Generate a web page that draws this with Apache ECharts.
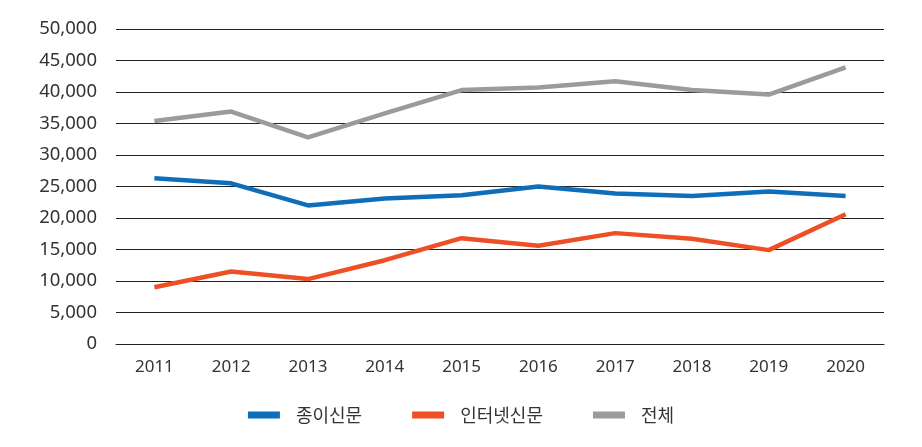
<!DOCTYPE html>
<html><head><meta charset="utf-8">
<script src="https://cdn.jsdelivr.net/npm/echarts@6/dist/echarts.min.js"></script>
<style>html,body{margin:0;padding:0;background:#fff}#c{width:922px;height:447px}</style>
</head><body><div id="c"></div>
<script>
const years = ['2011','2012','2013','2014','2015','2016','2017','2018','2019','2020'];
const paper = [26300, 25500, 22000, 23100, 23600, 25000, 23900, 23500, 24200, 23500];
const internet = [9000, 11500, 10300, 13300, 16800, 15600, 17600, 16700, 14900, 20600];
const total = [35400, 36900, 32800, 36600, 40300, 40700, 41700, 40300, 39600, 43900];
const seriesNames = ['종이신문', '인터넷신문', '전체'];
const colors = ['#0F6EB9', '#EE5026', '#9B9B9E'];

const chart = echarts.init(document.getElementById('c'));
const font = '"Noto Sans", "Noto Sans CJK KR", sans-serif';
const cjk = '"Noto Sans CJK KR", "Noto Sans", sans-serif';
chart.setOption({
  animation: false,
  color: colors,
  grid: {left: 116, right: 38, top: 29, bottom: 103},
  legend: {
    top: 401, left: 'center', itemWidth: 32, itemHeight: 7, itemGap: 50,
    icon: 'rect',
    textStyle: {fontFamily: cjk, fontSize: 18, color: '#333', padding: [0,0,0,11]},
    data: seriesNames
  },
  xAxis: {
    type: 'category', data: years, boundaryGap: true,
    axisLine: {show: true, lineStyle: {color: '#222', width: 1}},
    axisTick: {show: false},
    axisLabel: {fontFamily: font, fontSize: 17, color: '#333', margin: 15}
  },
  yAxis: {
    type: 'value', min: 0, max: 50000, interval: 5000,
    axisLine: {show: false}, axisTick: {show: false},
    splitLine: {lineStyle: {color: '#222', width: 1}},
    axisLabel: {fontFamily: font, fontSize: 18.5, color: '#333', margin: 19,
      formatter: v => v.toLocaleString('en-US')}
  },
  series: [
    {name: seriesNames[0], type: 'line', data: paper, symbol: 'none', lineStyle: {width: 4.5}},
    {name: seriesNames[1], type: 'line', data: internet, symbol: 'none', lineStyle: {width: 4.5}},
    {name: seriesNames[2], type: 'line', data: total, symbol: 'none', lineStyle: {width: 4.5}}
  ]
});
</script></body></html>
